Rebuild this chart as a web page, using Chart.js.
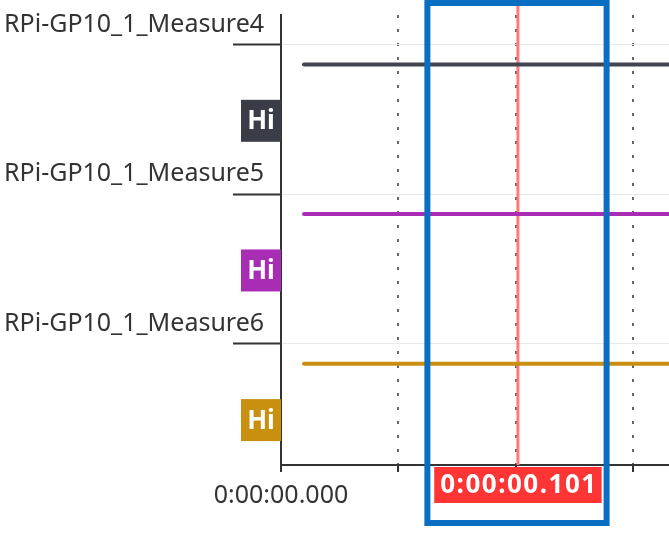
<!DOCTYPE html>
<html>
<head>
<meta charset="utf-8">
<script src="https://cdn.jsdelivr.net/npm/chart.js@4.4.0/dist/chart.umd.min.js"></script>
<style>
  html, body { margin: 0; padding: 0; background: #fff; }
  #wrap { width: 669px; height: 544px; }
</style>
</head>
<body>
<div id="wrap"><canvas id="chart"></canvas></div>
<script>
// channel rows, top to bottom
const channelNames = ['RPi-GP10_1_Measure4', 'RPi-GP10_1_Measure5', 'RPi-GP10_1_Measure6'];
const channelStates = ['Hi', 'Hi', 'Hi'];
const signalStart = [0.0098, 0.0098, 0.0098];   // seconds
const signalEnd = [0.1654, 0.1654, 0.1654];
const timeTicks = [0, 0.05, 0.1, 0.15];
const cursorTime = 0.101;
const highlightRange = [0.0624, 0.1388];

const channelColors = ['#42454e', '#a92db4', '#c98f0e'];
const badgeColors = ['#3a3d48', '#a92db4', '#c98f0e'];

const hiLevel = 0.133;     // where the Hi trace sits inside a row
const badgeLevel = 0.51;   // where the state badge sits inside a row
const yMin = -0.197, yMax = 2.81;
const xMax = 0.1654;
const FONT = '"Noto Sans", "Open Sans", sans-serif';

function fmtTime(t) {
  const ms = Math.round(t * 1000);
  const h = Math.floor(ms / 3600000);
  const m = Math.floor(ms / 60000) % 60;
  const s = Math.floor(ms / 1000) % 60;
  const pad = (n, w) => String(n).padStart(w, '0');
  return `${h}:${pad(m, 2)}:${pad(s, 2)}.${pad(ms % 1000, 3)}`;
}

const datasets = channelNames.map((name, i) => ({
  label: name,
  data: [{ x: signalStart[i], y: i + hiLevel }, { x: signalEnd[i], y: i + hiLevel }],
  borderColor: channelColors[i],
  borderWidth: 4,
  borderCapStyle: 'round',
  pointRadius: 0
}));

datasets.push({
  label: 'cursor',
  data: [{ x: cursorTime, y: yMin - 0.1 }, { x: cursorTime, y: yMax }],
  borderColor: '#ff7a7a',
  borderWidth: 3,
  pointRadius: 0,
  clip: { left: 0, right: 0, top: 15, bottom: 0 }
});

const overlay = {
  id: 'overlay',
  afterDraw(chart) {
    const { ctx, chartArea, scales: { x, y } } = chart;
    ctx.save();

    // state badges on the left of the axis
    ctx.font = `bold 26px ${FONT}`;
    ctx.textAlign = 'center';
    ctx.textBaseline = 'middle';
    channelStates.forEach((st, i) => {
      const cy = y.getPixelForValue(i + badgeLevel);
      ctx.fillStyle = badgeColors[i];
      ctx.fillRect(chartArea.left - 40, cy - 21, 40, 42);
      ctx.fillStyle = '#fff';
      ctx.fillText(st, chartArea.left - 20, cy + 1);
    });

    // cursor time label
    const cx = x.getPixelForValue(cursorTime);
    const txt = fmtTime(cursorTime);
    ctx.letterSpacing = '1.5px';
    const w = ctx.measureText(txt).width + 10;
    ctx.fillStyle = '#ff3535';
    ctx.fillRect(cx - w / 2, chartArea.bottom + 2, w, 36);
    ctx.fillStyle = '#fff';
    ctx.fillText(txt, cx + 1, chartArea.bottom + 21);
    ctx.letterSpacing = '0px';

    // highlight frame
    const x1 = x.getPixelForValue(highlightRange[0]);
    const x2 = x.getPixelForValue(highlightRange[1]);
    ctx.strokeStyle = '#0a6fc2';
    ctx.lineWidth = 6;
    ctx.strokeRect(x1, 3, x2 - x1, chart.height - 24);
    ctx.restore();
  }
};

new Chart(document.getElementById('chart'), {
  type: 'line',
  data: { datasets },
  plugins: [overlay],
  options: {
    animation: false,
    responsive: true,
    maintainAspectRatio: false,
    layout: { padding: { left: 4, top: 4, right: 0, bottom: 0 } },
    plugins: { legend: { display: false }, tooltip: { enabled: false } },
    scales: {
      x: {
        type: 'linear',
        min: 0,
        max: xMax,
        afterBuildTicks: s => { s.ticks = timeTicks.map(v => ({ value: v })); },
        afterFit: s => { s.height = 79; },
        ticks: {
          callback: v => v === 0 ? fmtTime(v) : '',
          color: '#333',
          font: { size: 25, family: FONT },
          padding: 9,
          maxRotation: 0,
          autoSkip: false
        },
        grid: {
          color: c => c.tick && c.tick.value === 0 ? 'rgba(0,0,0,0)' : '#666',
          lineWidth: 2,
          tickLength: 7,
          tickColor: '#333',
          tickWidth: 2,
          tickBorderDash: []
        },
        border: { color: '#333', width: 2, dash: [3, 11] }
      },
      y: {
        type: 'linear',
        reverse: true,
        min: yMin,
        max: yMax,
        afterBuildTicks: s => { s.ticks = channelNames.map((_, i) => ({ value: i })); },
        afterFit: s => { s.width = 277; },
        ticks: {
          callback: v => channelNames[v],
          crossAlign: 'far',
          labelOffset: -20,
          padding: 0,
          color: '#333',
          font: { size: 25, family: FONT },
          autoSkip: false
        },
        grid: { color: '#e8e8e8', lineWidth: 1, tickLength: 48, tickColor: '#333', tickWidth: 2 },
        border: { color: '#333', width: 2 }
      }
    }
  }
});
</script>
</body>
</html>
